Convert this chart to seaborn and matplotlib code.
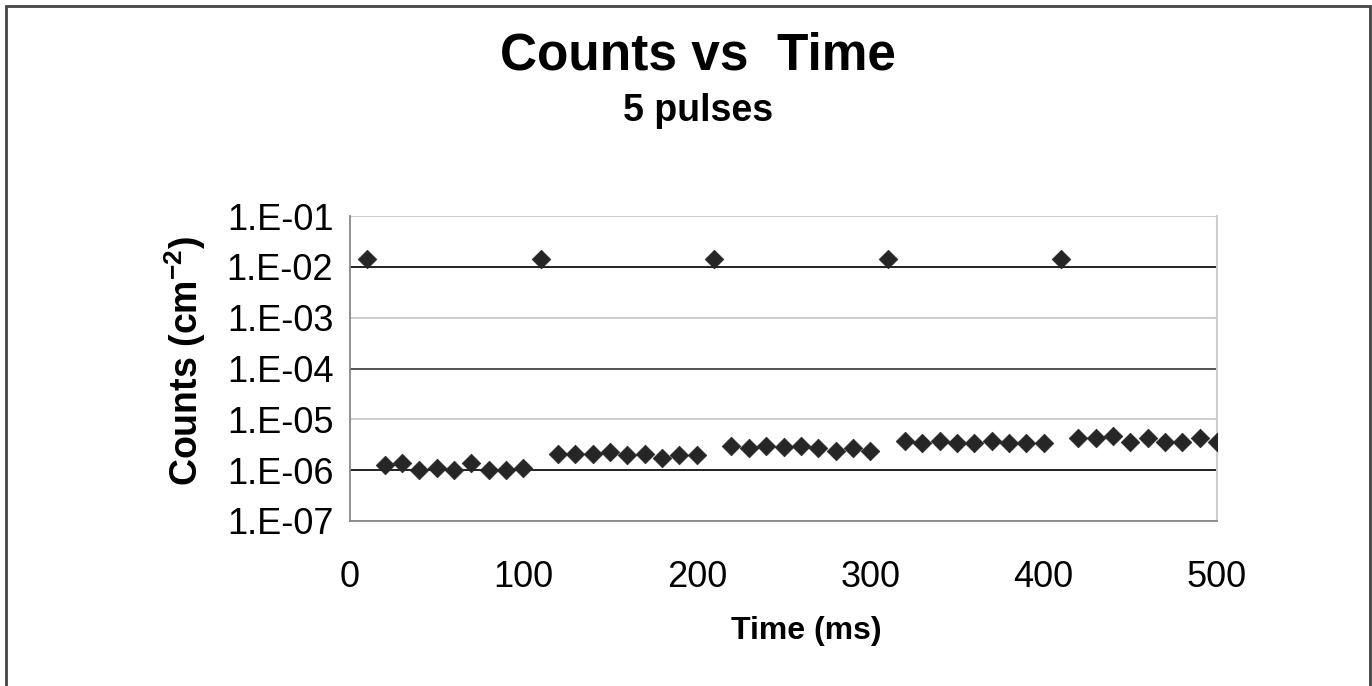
import numpy as np
import pandas as pd
import matplotlib
matplotlib.use("Agg")
import matplotlib.pyplot as plt
import seaborn as sns
from matplotlib.patches import Rectangle

# ---- data ----
pulse_times = [10, 110, 210, 310, 410]
pulse_counts = [1.4e-2, 1.4e-2, 1.4e-2, 1.4e-2, 1.4e-2]

bg_times = [20, 30, 40, 50, 60, 70, 80, 90, 100,
            120, 130, 140, 150, 160, 170, 180, 190, 200,
            220, 230, 240, 250, 260, 270, 280, 290, 300,
            320, 330, 340, 350, 360, 370, 380, 390, 400,
            420, 430, 440, 450, 460, 470, 480, 490, 500]
bg_counts = [1.25e-6, 1.4e-6, 1.0e-6, 1.1e-6, 1.0e-6, 1.4e-6, 1.0e-6, 1.0e-6, 1.1e-6,
             2.1e-6, 2.1e-6, 2.1e-6, 2.3e-6, 1.95e-6, 2.1e-6, 1.75e-6, 1.95e-6, 1.95e-6,
             2.95e-6, 2.7e-6, 2.95e-6, 2.9e-6, 2.95e-6, 2.7e-6, 2.35e-6, 2.7e-6, 2.35e-6,
             3.7e-6, 3.35e-6, 3.8e-6, 3.35e-6, 3.35e-6, 3.8e-6, 3.35e-6, 3.35e-6, 3.35e-6,
             4.2e-6, 4.2e-6, 4.8e-6, 3.65e-6, 4.2e-6, 3.65e-6, 3.65e-6, 4.2e-6, 3.65e-6]

y_ticks = [1e-1, 1e-2, 1e-3, 1e-4, 1e-5, 1e-6, 1e-7]
y_ticklabels = ["1.E-01", "1.E-02", "1.E-03", "1.E-04", "1.E-05", "1.E-06", "1.E-07"]
x_ticks = [0, 100, 200, 300, 400, 500]

title = "Counts vs  Time"
subtitle = "5 pulses"
xlabel = "Time (ms)"
ylabel = r"Counts (cm$^{\mathbf{-2}}$)"

df = pd.DataFrame({"time": pulse_times + bg_times,
                   "counts": pulse_counts + bg_counts})

sns.set_theme(style="white")
plt.rcParams["font.family"] = ["Liberation Sans", "DejaVu Sans"]
plt.rcParams["mathtext.fontset"] = "custom"
plt.rcParams["mathtext.rm"] = "Liberation Sans"
plt.rcParams["mathtext.bf"] = "Liberation Sans:bold"
plt.rcParams["text.color"] = "black"
plt.rcParams["axes.labelcolor"] = "black"

fig = plt.figure(figsize=(13.72, 6.86), dpi=100)
ax = fig.add_axes([350 / 1372, 1 - 521 / 686, 867 / 1372, 305 / 686])

ax.set_yscale("log")
ax.set_ylim(1e-7, 1e-1)
ax.set_xlim(0, 500)

# gridlines: alternating darker / lighter as in reference
grid_colors = ["#c8c8c8", "#111111", "#c8c8c8", "#444444", "#c8c8c8", "#111111", "#c8c8c8"]
for t, c in zip(y_ticks, grid_colors):
    ax.axhline(t, color=c, lw=1.3, zorder=1)

sns.scatterplot(data=df, x="time", y="counts", marker="D", s=90,
                color="#262626", edgecolor="#262626", linewidth=0.5,
                ax=ax, zorder=3, legend=False)

ax.set_yticks(y_ticks)
ax.set_yticklabels(y_ticklabels)
ax.minorticks_off()
ax.set_xticks(x_ticks)
ax.tick_params(axis="both", labelsize=26, colors="#808080",
               labelcolor="#000000", length=8, width=1.2, direction="out")
ax.tick_params(axis="x", pad=20)
ax.tick_params(axis="y", pad=4)

for side in ["left", "bottom"]:
    ax.spines[side].set_color("#888888")
    ax.spines[side].set_linewidth(1.3)
ax.spines["right"].set_color("#cccccc")
ax.spines["right"].set_linewidth(1.5)
ax.spines["top"].set_visible(False)

ax.set_xlabel(xlabel, fontsize=23, fontweight="bold")
ax.xaxis.set_label_coords((806 - 350) / 867, (521 - 631) / 305)
ax.xaxis.label.set_va("center")
ax.set_ylabel(ylabel, fontsize=27, fontweight="bold")
ax.yaxis.set_label_coords((185 - 350) / 867, (521 - 361) / 305)
ax.yaxis.label.set_va("center")

fig.text(698 / 1372, 1 - 56 / 686, title, fontsize=37, fontweight="bold",
         ha="center", va="center")
fig.text(698 / 1372, 1 - 111 / 686, subtitle, fontsize=27, fontweight="bold",
         ha="center", va="center")

# outer chart frame
fig.patches.append(Rectangle((6 / 1372, -0.05), 1364 / 1372, 1 - 6 / 686 + 0.05,
                             transform=fig.transFigure, fill=False,
                             edgecolor="#444444", lw=2))

fig.savefig("out.png", dpi=100, facecolor="white")
